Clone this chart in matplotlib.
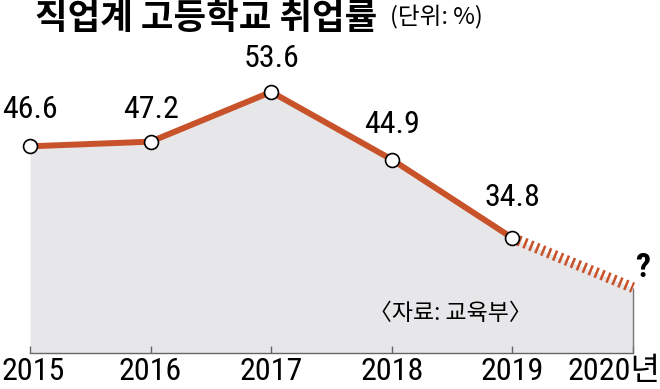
import matplotlib
matplotlib.use("Agg")
import matplotlib.pyplot as plt
from matplotlib import font_manager
from matplotlib.transforms import ScaledTranslation

# data
years = [2015, 2016, 2017, 2018, 2019, 2020]
rates = [46.6, 47.2, 53.6, 44.9, 34.8, 28.4]   # last one is the unlabelled "?" guess
labeled = 5                                      # first five points carry a value label
year_labels = ["2015", "2016", "2017", "2018", "2019", "2020년"]
label_dy = [37, 32, 33, 35, 41]                  # px above each marker

title = "직업계 고등학교 취업률"
unit = "(단위: %)"
source = "〈자료: 교육부〉"

# a narrow face for the numbers if there is one
have = {f.name for f in font_manager.fontManager.ttflist}
narrow = None
for cand in ["Liberation Sans Narrow", "Roboto Condensed", "DejaVu Sans Condensed",
             "Open Sans Condensed", "Roboto", "Liberation Sans"]:
    if cand in have:
        narrow = cand
        break
num_font = [narrow, "Noto Sans CJK KR"] if narrow else ["Noto Sans CJK KR"]
num_size = 23 if narrow in ("Liberation Sans Narrow", "Roboto Condensed",
                            "DejaVu Sans Condensed", "Open Sans Condensed") else 20
kor_font = ["Noto Sans CJK KR", "DejaVu Sans"]
line_col = "#c8532b"
fill_col = "#e7e7e9"

fig = plt.figure(figsize=(6.6, 3.89), dpi=100)
ax = fig.add_axes([0, 36 / 389, 1, 353 / 389])
ax.set_xlim(2014.751, 2020.224)
ax.set_ylim(20, 65.43)

ax.fill_between(years, rates, 20, color=fill_col, lw=0, zorder=1)
ax.vlines(years[-1], 20, rates[-1], color="#777777", lw=1, zorder=2)

# solid part
ax.plot(years[:labeled], rates[:labeled], color=line_col, lw=4.3,
        solid_joinstyle="miter", zorder=3)
# striped forecast part
ax.plot(years[labeled - 1:], rates[labeled - 1:], color=line_col, lw=7.7,
        linestyle=(0, (0.24, 0.36)), dash_capstyle="butt", zorder=3)
ax.plot(years[:labeled], rates[:labeled], "o", ms=10, mfc="white", mec="black",
        mew=1.2, zorder=4)

for x, y, dy in zip(years[:labeled], rates[:labeled], label_dy):
    ax.annotate(f"{y:.1f}", (x, y), xytext=(0, dy * 0.72), textcoords="offset points",
                ha="center", va="center", fontsize=num_size, family=num_font)

ax.annotate("?", (years[-1], rates[-1]), xytext=(7, 14), textcoords="offset points",
            ha="center", va="center", fontsize=24, fontweight="bold", family=num_font)

# axis
for s in ["left", "right", "top"]:
    ax.spines[s].set_visible(False)
ax.spines["bottom"].set_bounds(years[0], years[-1])
ax.spines["bottom"].set_color("#666666")
ax.spines["bottom"].set_linewidth(1.0)
ax.set_yticks([])
ax.set_xticks(years)
ax.set_xticklabels(year_labels, family=num_font, fontsize=num_size)
ax.tick_params(axis="x", direction="in", length=5, width=1, color="#666666", pad=3)
ticklabs = ax.get_xticklabels()
first, last = ticklabs[0], ticklabs[-1]
first.set_transform(first.get_transform() + ScaledTranslation(0.03, 0, fig.dpi_scale_trans))
last.set_transform(last.get_transform() + ScaledTranslation(-0.19, 0, fig.dpi_scale_trans))

fig.text(35 / 660, 1 - 18 / 389, title, fontsize=25.5, fontweight="bold",
         family=kor_font, ha="left", va="center")
fig.text(390 / 660, 1 - 17 / 389, unit, fontsize=17, family=kor_font,
         ha="left", va="center")
fig.text(450 / 660, 1 - 314 / 389, source, fontsize=16.5, family=kor_font,
         ha="center", va="center")

fig.savefig("out.png", dpi=100)
